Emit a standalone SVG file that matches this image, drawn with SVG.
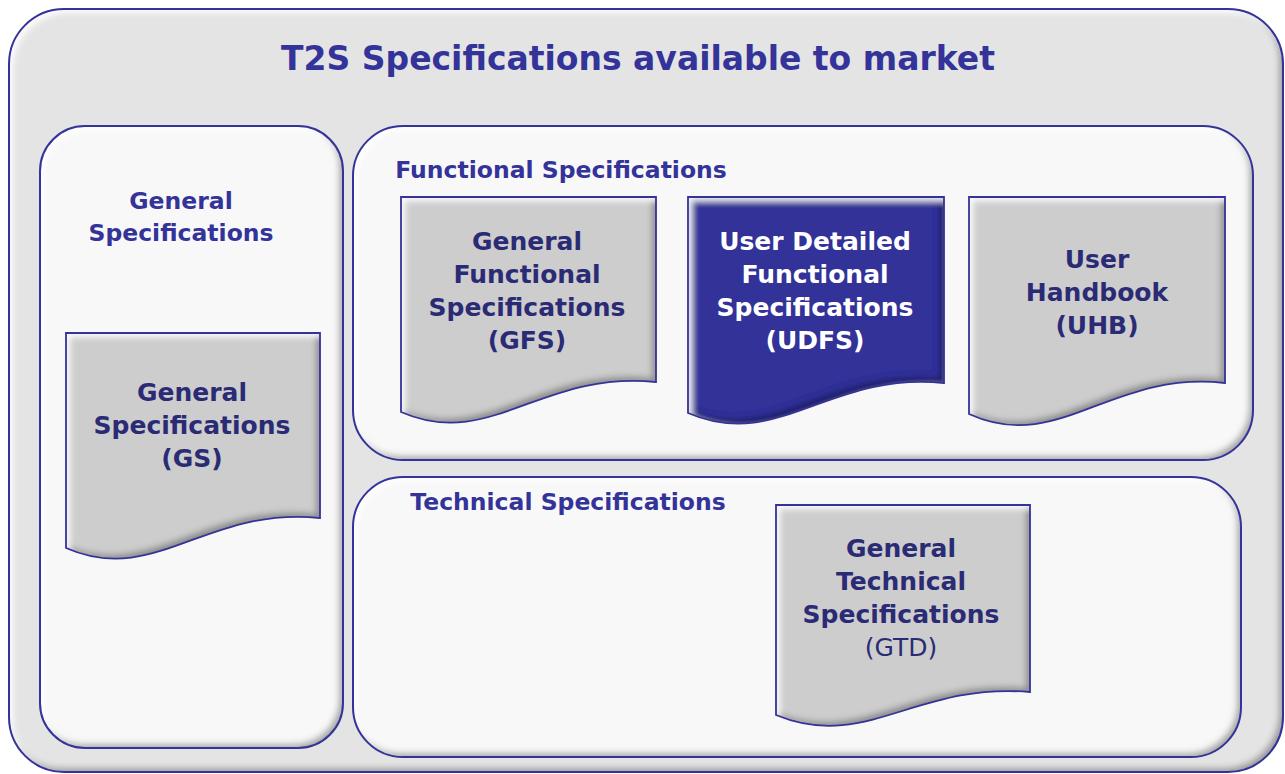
<svg xmlns="http://www.w3.org/2000/svg" width="1285" height="774" viewBox="0 0 1285 774">
<defs>
<filter id="bevel" x="-5%" y="-5%" width="110%" height="110%">
  <feGaussianBlur in="SourceAlpha" stdDeviation="3" result="blur"/>
  <feOffset in="blur" dx="-4" dy="-4" result="offDark"/>
  <feComposite in="SourceAlpha" in2="offDark" operator="out" result="darkEdge"/>
  <feFlood flood-color="#000000" flood-opacity="0.6"/>
  <feComposite in2="darkEdge" operator="in" result="shade"/>
  <feOffset in="blur" dx="4" dy="4" result="offLight"/>
  <feComposite in="SourceAlpha" in2="offLight" operator="out" result="lightEdge"/>
  <feFlood flood-color="#ffffff" flood-opacity="0.9"/>
  <feComposite in2="lightEdge" operator="in" result="hi"/>
  <feMerge><feMergeNode in="SourceGraphic"/><feMergeNode in="shade"/><feMergeNode in="hi"/></feMerge>
</filter>
<style>
.outer{fill:#e4e4e4;}
.panel{fill:#f8f8f8;}
.edge{fill:none;stroke:#333399;stroke-width:2;}
.doc{fill:#cdcdcd;}
.udfs{fill:#333399;}
.dedge{fill:none;stroke:#333399;stroke-width:1.8;}
text{font-family:"DejaVu Sans","Verdana",sans-serif;font-weight:bold;text-anchor:middle;}
.title{font-size:33px;fill:#333399;}
.plabel{font-size:23.5px;fill:#333399;}
.dtext{font-size:25px;fill:#2b2b75;}
.wtext{font-size:25px;fill:#ffffff;}
.norm{font-weight:normal;}
</style>
</defs>

<g id="outer">
  <rect class="outer" x="9" y="9" width="1274" height="763" rx="55" filter="url(#bevel)"/>
  <rect class="edge" x="9" y="9" width="1274" height="763" rx="55"/>
  <text class="title" x="638" y="70">T2S Specifications available to market</text>
</g>

<g id="general-panel">
  <rect class="panel" x="40" y="126" width="303" height="622" rx="45" filter="url(#bevel)"/>
  <rect class="edge" x="40" y="126" width="303" height="622" rx="45"/>
  <text class="plabel" x="181" y="209">General</text>
  <text class="plabel" x="181" y="241">Specifications</text>
</g>

<g id="functional-panel">
  <rect class="panel" x="353" y="126" width="900" height="334" rx="50" filter="url(#bevel)"/>
  <rect class="edge" x="353" y="126" width="900" height="334" rx="50"/>
  <text class="plabel" x="561" y="178">Functional Specifications</text>
</g>

<g id="technical-panel">
  <rect class="panel" x="353" y="477" width="888" height="280" rx="50" filter="url(#bevel)"/>
  <rect class="edge" x="353" y="477" width="888" height="280" rx="50"/>
  <text class="plabel" x="568" y="510">Technical Specifications</text>
</g>

<g id="gs">
  <path class="doc" filter="url(#bevel)" d="M66,333 H320 V518 C205.7,506 154.9,587 66,548 Z"/>
  <path class="dedge" d="M66,333 H320 V518 C205.7,506 154.9,587 66,548 Z"/>
  <text class="dtext" x="192" y="401">General</text>
  <text class="dtext" x="192" y="434">Specifications</text>
  <text class="dtext" x="192" y="467">(GS)</text>
</g>

<g id="gfs">
  <path class="doc" filter="url(#bevel)" d="M401,197 H656 V382 C541,370 490,451 401,412 Z"/>
  <path class="dedge" d="M401,197 H656 V382 C541,370 490,451 401,412 Z"/>
  <text class="dtext" x="527" y="250">General</text>
  <text class="dtext" x="527" y="283">Functional</text>
  <text class="dtext" x="527" y="316">Specifications</text>
  <text class="dtext" x="527" y="349">(GFS)</text>
</g>

<g id="udfs">
  <path class="udfs" filter="url(#bevel)" d="M688,197 H944 V383 C829,371 778,452 688,413 Z"/>
  <path class="dedge" d="M688,197 H944 V383 C829,371 778,452 688,413 Z"/>
  <text class="wtext" x="815" y="250">User Detailed</text>
  <text class="wtext" x="815" y="283">Functional</text>
  <text class="wtext" x="815" y="316">Specifications</text>
  <text class="wtext" x="815" y="349">(UDFS)</text>
</g>

<g id="uhb">
  <path class="doc" filter="url(#bevel)" d="M969,197 H1225 V383 C1110,370 1059,455 969,414 Z"/>
  <path class="dedge" d="M969,197 H1225 V383 C1110,370 1059,455 969,414 Z"/>
  <text class="dtext" x="1097" y="268">User</text>
  <text class="dtext" x="1097" y="301">Handbook</text>
  <text class="dtext" x="1097" y="334">(UHB)</text>
</g>

<g id="gtd">
  <path class="doc" filter="url(#bevel)" d="M776,505 H1030 V692 C916,682 865,752 776,715 Z"/>
  <path class="dedge" d="M776,505 H1030 V692 C916,682 865,752 776,715 Z"/>
  <text class="dtext" x="901" y="557">General</text>
  <text class="dtext" x="901" y="590">Technical</text>
  <text class="dtext" x="901" y="623">Specifications</text>
  <text class="dtext norm" x="901" y="656">(GTD)</text>
</g>

<g id="connectors"></g>
</svg>
